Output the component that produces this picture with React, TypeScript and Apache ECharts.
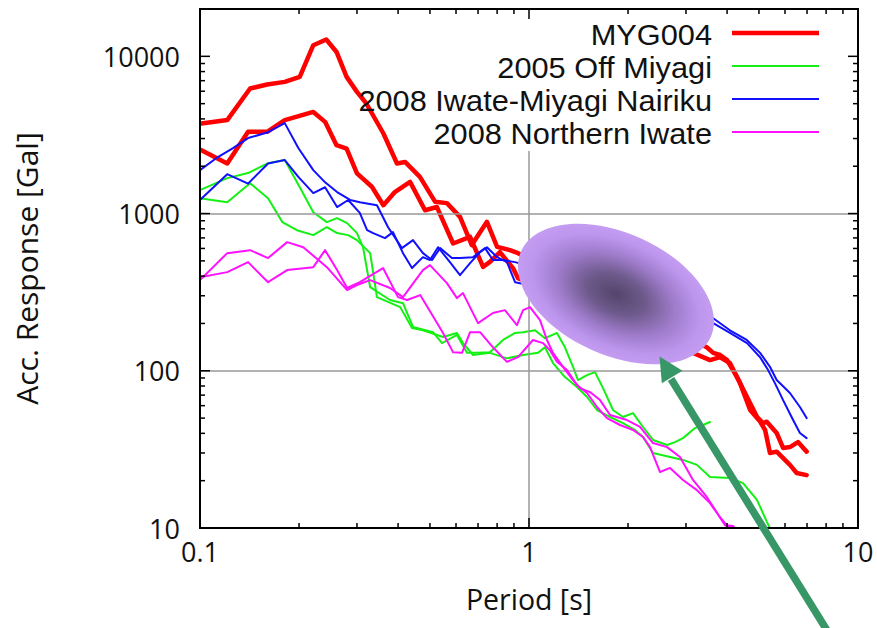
import React, { useEffect, useRef } from 'react';
import * as echarts from 'echarts';

const FONT = '"Open Sans", "Noto Sans", "DejaVu Sans", sans-serif';
const LEGEND_FONT = '"Liberation Sans", Arial, sans-serif';

// Axis ranges and ticks
const X_MIN = 0.1;
const X_MAX = 10;
const Y_MIN = 10;
const Y_MAX = 20000;
const xTickLabels = ['0.1', '1', '10'];
const yTickLabels = ['10', '100', '1000', '10000'];
const xMinorTicks = [0.2, 0.3, 0.4, 0.5, 0.6, 0.7, 0.8, 0.9, 2, 3, 4, 5, 6, 7, 8, 9];
const yMinorTicks = [20, 30, 40, 50, 60, 70, 80, 90, 200, 300, 400, 500, 600, 700, 800, 900, 2000, 3000, 4000, 5000, 6000, 7000, 8000, 9000];
const gridLinesY = [100, 1000];
const gridLineX = 1;
const gridLineXTop = 2500;

const xAxisName = 'Period [s]';
const yAxisName = 'Acc. Response [Gal]';

const eventNames = ['MYG004', '2005 Off Miyagi', '2008 Iwate-Miyagi Nairiku', '2008 Northern Iwate'];
const eventColors = ['#ff0000', '#14f014', '#1010ff', '#ff10ff'];

// [period (s), acceleration response (Gal)]
const myg004A = [
  [0.101, 3740], [0.121, 3930], [0.142, 6240], [0.16, 6620], [0.181, 6880], [0.201, 7400],
  [0.221, 11770], [0.242, 12790], [0.26, 10660], [0.279, 7400], [0.3, 5940], [0.32, 5030],
  [0.361, 3230], [0.397, 2080], [0.42, 2130], [0.466, 1710], [0.518, 1190], [0.563, 1165],
  [0.617, 953], [0.67, 630], [0.745, 886], [0.8, 614], [0.875, 585], [0.926, 560],
  [3.47, 141], [3.63, 130], [3.81, 126], [4.0, 117], [4.29, 91], [4.6, 68], [4.93, 51],
  [5.14, 46.5], [5.28, 47.4], [5.66, 40.2], [5.92, 32.3], [6.21, 32.7], [6.57, 35.2], [6.98, 30.6],
];
const myg004B = [
  [0.101, 2530], [0.121, 2080], [0.14, 3310], [0.16, 3310], [0.181, 3930], [0.221, 4430],
  [0.24, 3830], [0.26, 2720], [0.279, 2590], [0.3, 1800], [0.333, 1480], [0.361, 1130],
  [0.391, 1370], [0.435, 1590], [0.483, 1050], [0.525, 1100], [0.588, 645], [0.662, 711],
  [0.725, 458], [0.761, 493], [0.816, 568], [0.894, 450], [0.926, 388],
  [3.55, 117], [3.81, 122], [4.08, 112], [4.38, 83.5], [4.7, 56.3], [5.04, 47.5], [5.22, 42.0],
  [5.4, 30.0], [5.66, 30.6], [6.21, 25.2], [6.51, 22.4], [6.98, 21.7],
];
const offMiyagiA = [
  [0.1, 1410], [0.121, 1680], [0.14, 1810], [0.161, 2090], [0.181, 2190], [0.201, 1470],
  [0.221, 1020], [0.243, 882], [0.261, 935], [0.28, 869], [0.3, 751], [0.313, 611], [0.329, 340],
  [0.378, 282], [0.414, 269], [0.444, 190], [0.511, 176], [0.544, 150], [0.604, 169], [0.648, 130],
  [0.695, 130], [0.761, 131], [0.834, 157], [0.907, 174], [0.959, 176], [1.043, 181], [1.118, 161],
  [1.216, 174], [1.286, 141], [1.361, 106], [1.409, 87.3], [1.501, 93.9], [1.587, 98.1],
  [1.679, 77.6], [1.8, 56.3], [1.931, 50.8], [2.071, 53.8], [2.221, 43.9], [2.382, 36.3],
  [2.628, 33.7], [2.779, 35.2], [2.938, 37.3], [3.196, 43.2], [3.381, 45.2], [3.549, 47.2],
];
const offMiyagiB = [
  [0.1, 1250], [0.121, 1180], [0.142, 1560], [0.161, 1250], [0.178, 882], [0.197, 784],
  [0.221, 729], [0.243, 819], [0.261, 751], [0.282, 729], [0.3, 678], [0.329, 560], [0.345, 294],
  [0.406, 254], [0.441, 187], [0.476, 181], [0.548, 164], [0.604, 174], [0.63, 150], [0.676, 126],
  [0.761, 130], [0.857, 120], [0.959, 126], [1.065, 130], [1.118, 141], [1.183, 112], [1.286, 91.2],
  [1.399, 78.8], [1.501, 68.1], [1.609, 56.3], [1.763, 50.8], [1.931, 46.5], [2.1, 42.0],
  [2.221, 37.9], [2.382, 30.0], [2.684, 28.3], [2.938, 27.1], [3.24, 25.2], [3.549, 21.1],
  [4.083, 20.8], [4.472, 19.3], [4.932, 15.1], [5.289, 10.9], [5.47, 9.4],
];
const iwateMiyagiA = [
  [0.1, 1890], [0.112, 2250], [0.126, 2610], [0.14, 3020], [0.161, 3290], [0.181, 3760],
  [0.199, 2610], [0.221, 1890], [0.24, 1580], [0.261, 1370], [0.286, 1220], [0.306, 1180],
  [0.345, 1130], [0.373, 819], [0.411, 603], [0.444, 678], [0.476, 560], [0.507, 506],
  [0.537, 603], [0.583, 521], [0.617, 521], [0.676, 528], [0.735, 603], [0.777, 506],
  [0.834, 506], [0.907, 491],
  [3.63, 216], [4.08, 181], [4.59, 157], [5.04, 130], [5.4, 106], [5.66, 87.3], [6.21, 72.2],
  [6.66, 58.8], [6.98, 50.0],
];
const iwateMiyagiB = [
  [0.1, 1220], [0.121, 1780], [0.14, 1550], [0.161, 2080], [0.181, 2190], [0.199, 1710],
  [0.221, 1350], [0.24, 1470], [0.261, 1100], [0.282, 1220], [0.306, 1010], [0.322, 784],
  [0.336, 751], [0.365, 698], [0.386, 762], [0.414, 560], [0.441, 450], [0.476, 528], [0.5, 506],
  [0.529, 611], [0.575, 491], [0.617, 406], [0.662, 484], [0.71, 568], [0.745, 611], [0.8, 528],
  [0.857, 491], [0.907, 366],
  [3.63, 201], [4.08, 174], [4.6, 150], [5.04, 122], [5.33, 101], [5.59, 83.5], [5.92, 65.1],
  [6.35, 48.6], [6.66, 40.2], [6.98, 37.3],
];
const northernIwateA = [
  [0.1, 377], [0.121, 560], [0.142, 585], [0.161, 521], [0.184, 658], [0.206, 611], [0.243, 456],
  [0.28, 326], [0.3, 351], [0.329, 377], [0.378, 336], [0.414, 294], [0.476, 437], [0.5, 470],
  [0.563, 361], [0.604, 290], [0.63, 312], [0.7, 201], [0.777, 233], [0.845, 243], [0.919, 195],
  [0.959, 243], [1.007, 254], [1.08, 210], [1.134, 157], [1.183, 130], [1.268, 106], [1.361, 87.3],
  [1.429, 77.6], [1.532, 73.2], [1.644, 65.1], [1.763, 52.3], [1.986, 48.6], [2.175, 43.9],
  [2.382, 34.7], [2.628, 32.7], [2.877, 28.3], [3.151, 20.2], [3.475, 15.7], [3.728, 12.5],
  [3.942, 10.4], [4.21, 9.9],
];
const northernIwateB = [
  [0.1, 394], [0.121, 424], [0.14, 491], [0.161, 366], [0.184, 437], [0.221, 456], [0.24, 585],
  [0.261, 437], [0.28, 336], [0.306, 366], [0.36, 450], [0.4, 294], [0.426, 282], [0.467, 303],
  [0.548, 174], [0.588, 131], [0.626, 130], [0.662, 176], [0.71, 176], [0.777, 141], [0.857, 114],
  [0.926, 122], [1.028, 157], [1.103, 150], [1.158, 135], [1.216, 114], [1.305, 101], [1.399, 81.1],
  [1.501, 72.2], [1.609, 58.8], [1.726, 50.0], [1.891, 45.2], [2.071, 42.0], [2.221, 37.9],
  [2.333, 32.7], [2.502, 22.7], [2.684, 24.1], [2.938, 20.2], [3.24, 17.4], [3.549, 14.4],
  [3.806, 11.7], [3.998, 10.4], [4.169, 10.3], [4.29, 9.6],
];

const eventData = [
  [myg004A, myg004B],
  [offMiyagiA, offMiyagiB],
  [iwateMiyagiA, iwateMiyagiB],
  [northernIwateA, northernIwateB],
];
const eventWidths = [4.5, 2, 2, 2];

const sameValue = (a: number, b: number) => Math.abs(Math.log10(a) - Math.log10(b)) < 1e-6;

export default function App() {
  const ref = useRef<HTMLDivElement>(null);

  useEffect(() => {
    if (!ref.current) return;
    const chart = echarts.init(ref.current, undefined, { renderer: 'svg' });

    const tickData: number[][] = [];
    xTickLabels.forEach((l) => tickData.push([Number(l), Y_MIN, 0, 1]));
    xMinorTicks.forEach((v) => tickData.push([v, Y_MIN, 0, 0]));
    yTickLabels.forEach((l) => tickData.push([X_MIN, Number(l), 1, 1]));
    yMinorTicks.forEach((v) => tickData.push([X_MIN, v, 1, 0]));

    const lineSeries: any[] = [];
    eventNames.forEach((name, i) => {
      eventData[i].forEach((d) => {
        lineSeries.push({
          type: 'line',
          name,
          data: d,
          showSymbol: false,
          symbol: 'none',
          silent: true,
          clip: true,
          z: 3 + i,
          lineStyle: { color: eventColors[i], width: eventWidths[i], join: 'round', cap: 'round' },
        });
      });
    });

    const legendX = 712;
    const legendLineX1 = 732;
    const legendLineX2 = 819;
    const legendY0 = 34;
    const legendGap = 33;

    const legendGraphics: any[] = [];
    eventNames.forEach((name, i) => {
      const y = legendY0 + i * legendGap;
      legendGraphics.push({
        type: 'text',
        z: 50,
        x: legendX,
        y: y + 1,
        scaleX: 1.06,
        style: {
          text: name,
          x: 0,
          y: 0,
          align: 'right',
          textAlign: 'right',
          verticalAlign: 'middle',
          textVerticalAlign: 'middle',
          fontSize: 29,
          lineHeight: 29,
          fontFamily: LEGEND_FONT,
          fill: '#111',
        },
      });
      legendGraphics.push({
        type: 'line',
        z: 50,
        shape: { x1: legendLineX1, y1: y - 1, x2: legendLineX2, y2: y - 1 },
        style: { stroke: eventColors[i], lineWidth: eventWidths[i] },
      });
    });

    const option: any = {
      animation: false,
      backgroundColor: '#ffffff',
      grid: {
        left: 200,
        top: 9,
        width: 658,
        height: 519,
        show: true,
        borderColor: '#000',
        borderWidth: 2,
        backgroundColor: 'transparent',
        z: 10,
      },
      xAxis: {
        type: 'log',
        logBase: 10,
        min: X_MIN,
        max: X_MAX,
        name: xAxisName,
        nameLocation: 'middle',
        nameGap: 56,
        nameTextStyle: { fontSize: 28.5, fontFamily: FONT, color: '#111' },
        axisLine: { show: false },
        axisTick: { show: false },
        splitLine: { show: false },
        axisLabel: {
          fontSize: 27,
          fontFamily: FONT,
          color: '#111',
          margin: 10,
          formatter: (v: number) => xTickLabels.find((l) => sameValue(Number(l), v)) || '',
        },
      },
      yAxis: {
        type: 'log',
        logBase: 10,
        min: Y_MIN,
        max: Y_MAX,
        name: yAxisName,
        nameLocation: 'middle',
        nameGap: 159,
        nameRotate: 90,
        nameTextStyle: { fontSize: 30, fontFamily: FONT, color: '#111' },
        axisLine: { show: false },
        axisTick: { show: false },
        splitLine: { show: false },
        axisLabel: {
          fontSize: 27,
          fontFamily: FONT,
          color: '#111',
          margin: 20,
          formatter: (v: number) => yTickLabels.find((l) => sameValue(Number(l), v)) || '',
        },
      },
      graphic: [
        ...legendGraphics,
        {
          type: 'ellipse',
          z: 60,
          x: 616,
          y: 294,
          rotation: -0.426,
          shape: { cx: 0, cy: 0, rx: 104, ry: 61 },
          style: {
            fill: new echarts.graphic.RadialGradient(0.5, 0.5, 0.5, [
              { offset: 0, color: '#54456a' },
              { offset: 0.3, color: '#6e5a8c' },
              { offset: 0.6, color: '#a07ccc' },
              { offset: 0.85, color: '#bc95ec' },
              { offset: 1, color: '#c49cf2' },
            ]),
          },
        },
        {
          type: 'line',
          z: 61,
          shape: { x1: 828, y1: 632, x2: 671, y2: 379 },
          style: { stroke: '#389767', lineWidth: 7.5 },
        },
        {
          type: 'polygon',
          z: 61,
          shape: { points: [[659.5, 356.5], [682.5, 370.7], [661.8, 383.3]] },
          style: { fill: '#389767' },
        },
      ],
      series: [
        {
          type: 'line',
          data: [],
          silent: true,
          z: 1,
          markLine: {
            silent: true,
            symbol: 'none',
            label: { show: false },
            animation: false,
            lineStyle: { color: '#999', width: 1.5, type: 'solid' },
            data: [
              ...gridLinesY.map((v) => [{ coord: [X_MIN, v] }, { coord: [X_MAX, v] }]),
              [{ coord: [gridLineX, Y_MIN] }, { coord: [gridLineX, gridLineXTop] }],
            ],
          },
        },
        {
          type: 'custom',
          silent: true,
          z: 20,
          data: tickData,
          renderItem: (_params: any, api: any) => {
            const x = api.value(0);
            const y = api.value(1);
            const axis = api.value(2);
            const major = api.value(3);
            const len = major ? 10 : 5;
            const style = { stroke: '#000', lineWidth: 1.5 };
            if (axis === 0) {
              const b = api.coord([x, Y_MIN]);
              const t = api.coord([x, Y_MAX]);
              return {
                type: 'group',
                children: [
                  { type: 'line', shape: { x1: b[0], y1: b[1], x2: b[0], y2: b[1] - len }, style },
                  { type: 'line', shape: { x1: t[0], y1: t[1], x2: t[0], y2: t[1] + len }, style },
                ],
              };
            }
            const l = api.coord([X_MIN, y]);
            const r = api.coord([X_MAX, y]);
            return {
              type: 'group',
              children: [
                { type: 'line', shape: { x1: l[0], y1: l[1], x2: l[0] + len, y2: l[1] }, style },
                { type: 'line', shape: { x1: r[0], y1: r[1], x2: r[0] - len, y2: r[1] }, style },
              ],
            };
          },
        },
        ...lineSeries,
      ],
    };

    chart.setOption(option);
    return () => chart.dispose();
  }, []);

  return (
    <div
      ref={ref}
      style={{ position: 'fixed', left: 0, top: 0, width: 877, height: 628, background: '#fff' }}
    />
  );
}
